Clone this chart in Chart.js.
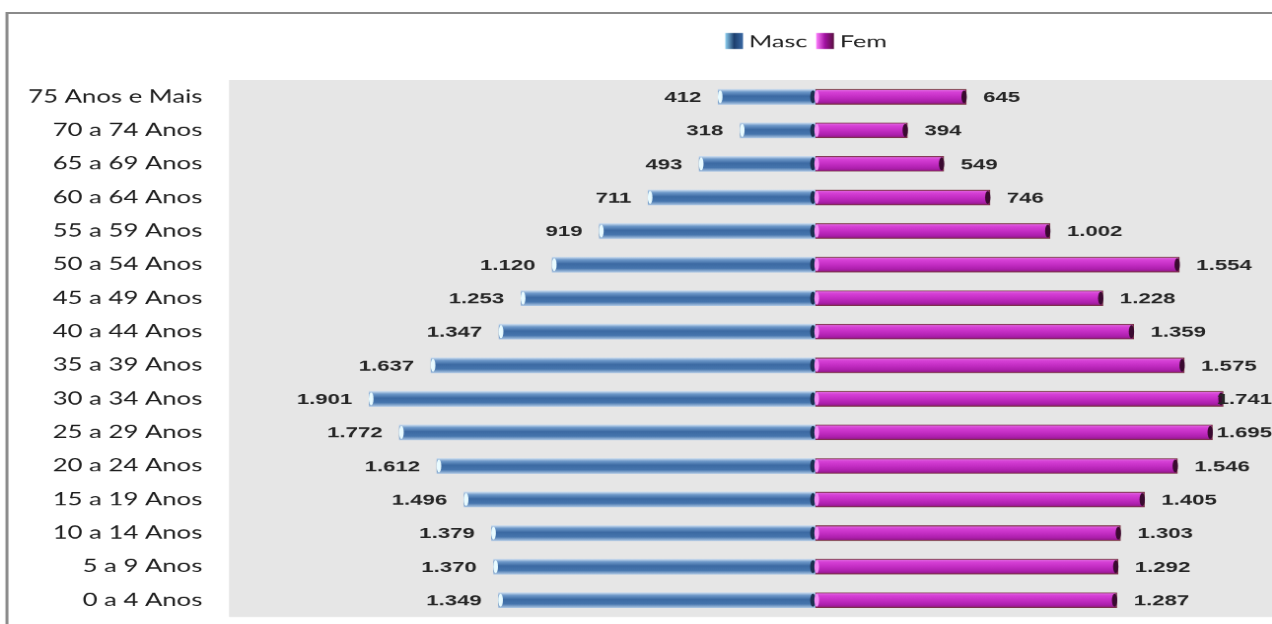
<!DOCTYPE html>
<html>
<head>
<meta charset="utf-8">
<script src="https://cdn.jsdelivr.net/npm/chart.js@4/dist/chart.umd.min.js"></script>
<style>
  html, body { margin: 0; padding: 0; background: #fff; overflow: hidden; }
  #wrap { width: 860px; height: 624px; transform: scaleX(1.4791); transform-origin: 0 0; }
</style>
</head>
<body>
<div id="wrap"><canvas id="pyramid"></canvas></div>
<script>
const categories = [
    '75 Anos e Mais', '70 a 74 Anos', '65 a 69 Anos', '60 a 64 Anos',
    '55 a 59 Anos', '50 a 54 Anos', '45 a 49 Anos', '40 a 44 Anos',
    '35 a 39 Anos', '30 a 34 Anos', '25 a 29 Anos', '20 a 24 Anos',
    '15 a 19 Anos', '10 a 14 Anos', '5 a 9 Anos', '0 a 4 Anos'
];
const mascValues = [412, 318, 493, 711, 919, 1120, 1253, 1347, 1637, 1901, 1772, 1612, 1496, 1379, 1370, 1349];
const femValues = [645, 394, 549, 746, 1002, 1554, 1228, 1359, 1575, 1741, 1695, 1546, 1405, 1303, 1292, 1287];
const seriesNames = ['Masc', 'Fem'];
const xMin = -2500;
const xMax = 1950;

const BAR_H = 15;

// thousands with a dot, pt-BR style
function fmt(v) {
    return String(Math.abs(v)).replace(/\B(?=(\d{3})+(?!\d))/g, '.');
}

function barGradient(ctx, stops) {
    const chart = ctx.chart;
    const y = chart.scales.y ? chart.scales.y.getPixelForValue(ctx.dataIndex) : NaN;
    if (!isFinite(y)) return stops[2][1];
    const g = chart.ctx.createLinearGradient(0, y - BAR_H / 2, 0, y + BAR_H / 2);
    stops.forEach(s => g.addColorStop(s[0], s[1]));
    return g;
}

const blueStops = [[0, '#c9dbee'], [0.18, '#6d98c9'], [0.45, '#3c6aa3'], [0.75, '#4675ad'], [1, '#a9c4e2']];
const pinkStops = [[0, '#e070e0'], [0.2, '#d640d6'], [0.5, '#c42ec4'], [0.8, '#ad1fad'], [1, '#8c1a7c']];

const framePlugin = {
    id: 'frame',
    beforeDraw(chart) {
        const { ctx, chartArea } = chart;
        ctx.save();
        ctx.fillStyle = '#e6e6e6';
        ctx.fillRect(chartArea.left, chartArea.top, chartArea.right - chartArea.left, chartArea.bottom - chartArea.top);
        ctx.strokeStyle = '#8a8a8a';
        ctx.lineWidth = 2;
        ctx.beginPath();
        ctx.moveTo(4.7, chart.height);
        ctx.lineTo(4.7, 13);
        ctx.lineTo(chart.width, 13);
        ctx.stroke();
        ctx.restore();
    }
};

const legendPlugin = {
    id: 'topLegend',
    afterDraw(chart) {
        const { ctx } = chart;
        const zero = chart.scales.x.getPixelForValue(0);
        const cy = 41;
        ctx.save();
        ctx.font = '17px Lato';
        ctx.textBaseline = 'middle';
        const box = 12, gap = 4, itemGap = 6;
        const widths = seriesNames.map(n => box + gap + ctx.measureText(n).width);
        const total = widths.reduce((a, b) => a + b, 0) + itemGap;
        let x = zero - 6 - total / 2;
        seriesNames.forEach((name, i) => {
            const g = ctx.createLinearGradient(x, 0, x + box, 0);
            if (i === 0) {
                g.addColorStop(0, '#8fd0f0'); g.addColorStop(0.5, '#1d3f6e'); g.addColorStop(1, '#3b6aa5');
            } else {
                g.addColorStop(0, '#ff80ff'); g.addColorStop(0.5, '#a010a0'); g.addColorStop(1, '#5a1040');
            }
            ctx.fillStyle = g;
            ctx.fillRect(x, cy - 8, box, 16);
            ctx.fillStyle = '#222';
            ctx.fillText(name, x + box + gap, cy + 1);
            x += widths[i] + itemGap;
        });
        ctx.restore();
    }
};

const labelPlugin = {
    id: 'barLabels',
    afterDatasetsDraw(chart) {
        const { ctx } = chart;
        ctx.save();
        ctx.font = 'bold 15px "Liberation Sans"';
        ctx.textBaseline = 'middle';
        chart.data.datasets.forEach((ds, di) => {
            const meta = chart.getDatasetMeta(di);
            meta.data.forEach((bar, i) => {
                const { x, y, base } = bar.getProps(['x', 'y', 'base'], true);
                // little end caps
                const left = Math.min(x, base), right = Math.max(x, base);
                ctx.fillStyle = di === 0 ? '#e9fbff' : '#f48cf4';
                ctx.beginPath();
                ctx.ellipse(left + 1.2, y, 1.6, BAR_H / 2 - 1, 0, 0, Math.PI * 2);
                ctx.fill();
                ctx.fillStyle = di === 0 ? '#1a3050' : '#3a0a30';
                ctx.beginPath();
                ctx.ellipse(right - 1.4, y, 1.8, BAR_H / 2 - 1, 0, 0, Math.PI * 2);
                ctx.fill();

                ctx.fillStyle = '#262626';
                const txt = fmt(ds.data[i]);
                if (di === 0) {
                    ctx.textAlign = 'right';
                    ctx.fillText(txt, x - 11.5, y + 1);
                } else {
                    const w = ctx.measureText(txt).width;
                    ctx.textAlign = 'left';
                    ctx.fillText(txt, Math.min(x + 11.5, chart.width - w), y + 1);
                }
            });
        });
        ctx.restore();
    }
};

new Chart(document.getElementById('pyramid').getContext('2d'), {
    type: 'bar',
    data: {
        labels: categories,
        datasets: [{
            label: seriesNames[0],
            data: mascValues.map(v => -v),
            backgroundColor: ctx => barGradient(ctx, blueStops),
            borderWidth: 0,
            barThickness: BAR_H
        }, {
            label: seriesNames[1],
            data: femValues,
            backgroundColor: ctx => barGradient(ctx, pinkStops),
            borderColor: '#7a3446',
            borderWidth: 1,
            borderSkipped: false,
            barThickness: BAR_H
        }]
    },
    options: {
        indexAxis: 'y',
        responsive: true,
        maintainAspectRatio: false,
        devicePixelRatio: 1.5,
        animation: false,
        layout: { padding: { top: 80, bottom: 7, left: 0, right: 0 } },
        plugins: {
            legend: { display: false },
            tooltip: { enabled: false }
        },
        scales: {
            x: {
                stacked: true,
                min: xMin,
                max: xMax,
                afterFit(scale) { scale.height = 0; scale.paddingLeft = 0; scale.paddingRight = 0; },
                ticks: { display: false, stepSize: 500 },
                border: { display: false },
                grid: {
                    drawTicks: false,
                    color: c => (c.tick && c.tick.value === 0 ? '#8a8a8a' : 'rgba(0,0,0,0)'),
                    lineWidth: 1
                }
            },
            y: {
                stacked: true,
                afterFit(scale) { scale.width = 154.8; scale.paddingTop = 0; scale.paddingBottom = 0; },
                border: { display: false },
                grid: { display: false },
                ticks: {
                    padding: 10,
                    color: '#1e1e1e',
                    font: { family: 'Lato', size: 17.4 }
                }
            }
        }
    },
    plugins: [framePlugin, legendPlugin, labelPlugin]
});
</script>
</body>
</html>
